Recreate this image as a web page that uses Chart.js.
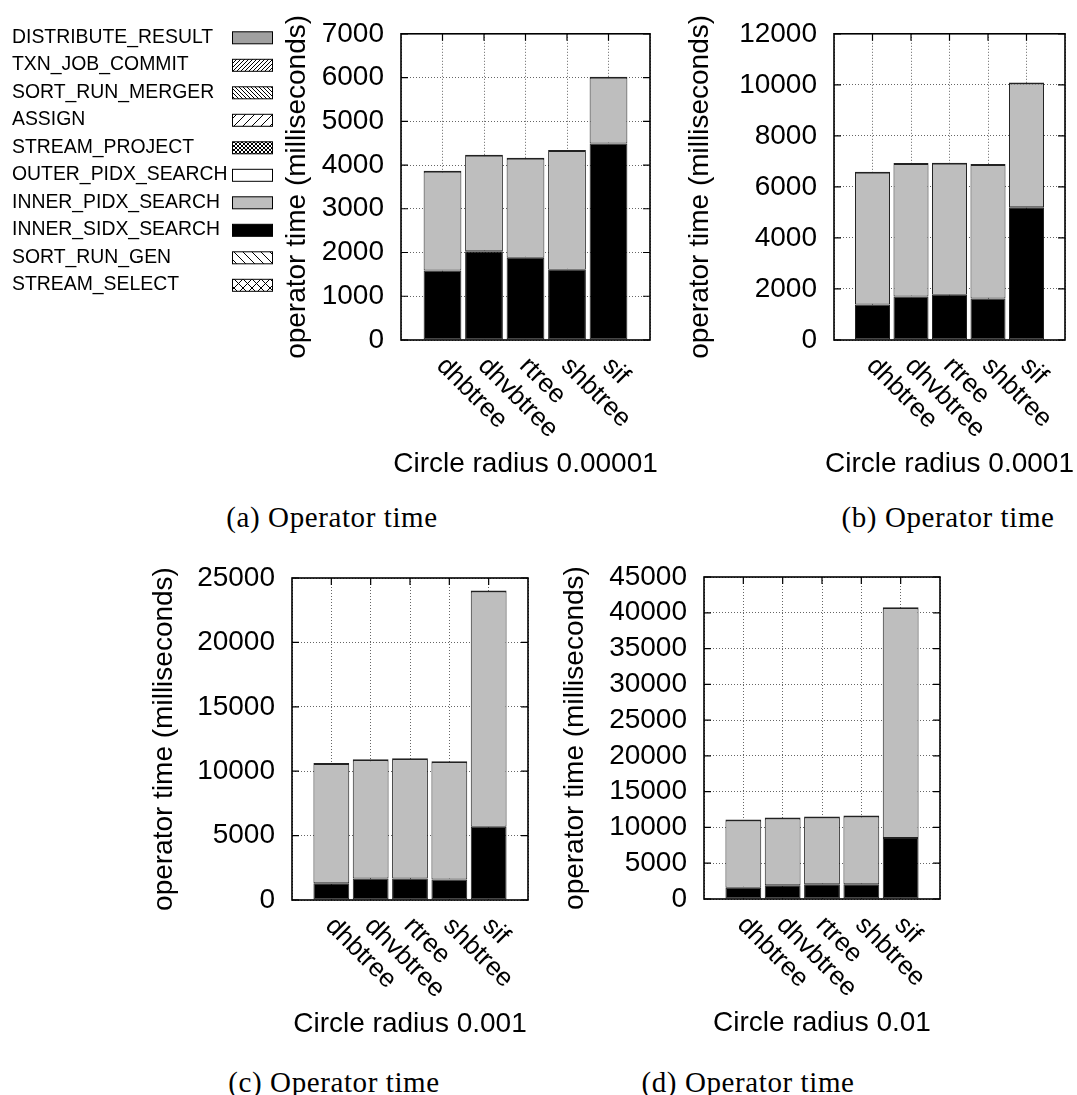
<!DOCTYPE html>
<html><head><meta charset="utf-8">
<script src="https://cdn.jsdelivr.net/npm/chart.js@4.4.1/dist/chart.umd.min.js"></script>
<style>
html,body{margin:0;padding:0;background:#fff;}
#wrap{position:relative;width:1077px;height:1095px;overflow:hidden;background:#fff;}
canvas{position:absolute;}
.cap{position:absolute;width:400px;text-align:center;font-family:"Liberation Serif",serif;font-size:29px;letter-spacing:0.6px;color:#000;line-height:34px;white-space:nowrap;}
</style></head><body>
<div id="wrap">
<canvas id="ca" width="660" height="480" style="left:0px;top:0px"></canvas>
<canvas id="cb" width="417" height="480" style="left:660px;top:0px"></canvas>
<canvas id="cc" width="440" height="501" style="left:100px;top:540px"></canvas>
<canvas id="cd" width="420" height="501" style="left:540px;top:540px"></canvas>
<div class="cap" style="left:132px;top:500px">(a) Operator time</div>
<div class="cap" style="left:748px;top:500px">(b) Operator time</div>
<div class="cap" style="left:134px;top:1065px">(c) Operator time</div>
<div class="cap" style="left:548px;top:1065px">(d) Operator time</div>
</div>
<script>
// ---------------- data ----------------
const categories = ['dhbtree', 'dhvbtree', 'rtree', 'shbtree', 'sif'];
// stack order, bottom first
const operators = ['STREAM_SELECT', 'SORT_RUN_GEN', 'INNER_SIDX_SEARCH', 'INNER_PIDX_SEARCH',
  'OUTER_PIDX_SEARCH', 'STREAM_PROJECT', 'ASSIGN', 'SORT_RUN_MERGER', 'TXN_JOB_COMMIT', 'DISTRIBUTE_RESULT'];
const xTitles = ['Circle radius 0.00001', 'Circle radius 0.0001', 'Circle radius 0.001', 'Circle radius 0.01'];
const yTitle = 'operator time (milliseconds)';
const yMax = [7000, 12000, 25000, 45000];
const yStep = [1000, 2000, 5000, 5000];

const sidxA = [1586, 2028, 1880, 1608, 4491];
const pidxA = [2286, 2205, 2287, 2735, 1527];
const sidxB = [1395, 1700, 1775, 1623, 5198];
const pidxB = [5195, 5232, 5170, 5272, 4890];
const sidxC = [1300, 1664, 1664, 1586, 5680];
const pidxC = [9345, 9261, 9338, 9184, 18342];
const sidxD = [1580, 1906, 2046, 2046, 8510];
const pidxD = [9520, 9474, 9494, 9634, 32272];
const otherOps = [0, 0, 0, 0, 0];

// ---------------- styles ----------------
const FONT = 'Liberation Sans';
Chart.defaults.color = '#000';
Chart.defaults.font.family = FONT;

function hatch(kind, gap) {
  const c = document.createElement('canvas');
  c.width = gap; c.height = gap;
  const g = c.getContext('2d');
  g.fillStyle = '#fff'; g.fillRect(0, 0, gap, gap);
  g.strokeStyle = '#000'; g.lineWidth = 1;
  g.beginPath();
  if (kind === '/' || kind === 'x') { g.moveTo(-1, gap + 1); g.lineTo(gap + 1, -1); }
  if (kind === '\\' || kind === 'x') { g.moveTo(-1, -1); g.lineTo(gap + 1, gap + 1); }
  g.stroke();
  return g.createPattern(c, 'repeat');
}
const opStyle = {
  STREAM_SELECT: hatch('x', 9),
  SORT_RUN_GEN: hatch('\\', 9),
  INNER_SIDX_SEARCH: '#000000',
  INNER_PIDX_SEARCH: '#bebebe',
  OUTER_PIDX_SEARCH: '#ffffff',
  STREAM_PROJECT: hatch('x', 4),
  ASSIGN: hatch('/', 9),
  SORT_RUN_MERGER: hatch('\\', 4),
  TXN_JOB_COMMIT: hatch('/', 4),
  DISTRIBUTE_RESULT: '#a0a0a0'
};

function pad(arr) { return [null].concat(arr, [null]); }

function buildDatasets(sidx, pidx) {
  return operators.map(op => {
    let vals = otherOps;
    if (op === 'INNER_SIDX_SEARCH') vals = sidx;
    if (op === 'INNER_PIDX_SEARCH') vals = pidx;
    return {
      label: op,
      data: pad(vals),
      backgroundColor: opStyle[op],
      borderColor: '#222',
      borderWidth: op === 'INNER_PIDX_SEARCH' ? {top: 2, left: 1, right: 1, bottom: 1} : 1,
      borderSkipped: false,
      categoryPercentage: 1,
      barPercentage: 0.91
    };
  });
}

// frame, inward ticks, axis titles and rotated category labels
const framePlugin = {
  id: 'frame',
  afterDatasetsDraw(chart, args, opts) {
    const {ctx, chartArea: a, scales} = chart;
    const x = scales.x, y = scales.y;
    ctx.save();
    ctx.strokeStyle = '#000';
    ctx.lineWidth = 1.2;
    ctx.beginPath();
    y.ticks.forEach(t => {
      const p = y.getPixelForValue(t.value);
      ctx.moveTo(a.left, p); ctx.lineTo(a.left + 7, p);
      ctx.moveTo(a.right, p); ctx.lineTo(a.right - 7, p);
    });
    for (let i = 1; i <= categories.length; i++) {
      const p = x.getPixelForValue(i);
      ctx.moveTo(p, a.top); ctx.lineTo(p, a.top + 7);
    }
    ctx.stroke();
    ctx.lineWidth = 1.6;
    ctx.strokeRect(a.left, a.top, a.right - a.left, a.bottom - a.top);
    ctx.fillStyle = '#000';
    // category labels, rotated clockwise
    ctx.font = '26px "' + FONT + '"';
    ctx.textAlign = 'left';
    ctx.textBaseline = 'middle';
    categories.forEach((c, i) => {
      const p = x.getPixelForValue(i + 1);
      ctx.save();
      ctx.translate(p - 2, a.bottom + 22);
      ctx.rotate(Math.PI / 4);
      ctx.fillText(c, 0, 0);
      ctx.restore();
    });
    // axis titles
    ctx.font = '28px "' + FONT + '"';
    ctx.textAlign = 'center';
    ctx.fillText(opts.xTitle, (a.left + a.right) / 2, a.bottom + 124);
    ctx.save();
    ctx.translate(opts.yTitleX, (a.top + a.bottom) / 2);
    ctx.rotate(-Math.PI / 2);
    ctx.fillText(yTitle, 0, 0);
    ctx.restore();
    ctx.restore();
  }
};

const legendPlugin = {
  id: 'opLegend',
  afterDraw(chart) {
    const ctx = chart.ctx;
    ctx.save();
    ctx.font = '19.4px "' + FONT + '"';
    ctx.textBaseline = 'middle';
    ctx.textAlign = 'left';
    const ds = chart.data.datasets.slice().reverse();
    ds.forEach((d, i) => {
      const yy = 37.3 + i * 27.5;
      ctx.fillStyle = '#000';
      ctx.fillText(d.label, 12, yy);
      ctx.fillStyle = d.backgroundColor;
      ctx.fillRect(232, yy - 5.5, 41, 12);
      ctx.strokeStyle = '#000';
      ctx.lineWidth = 1;
      ctx.strokeRect(232.5, yy - 5.5, 40, 12);
    });
    ctx.restore();
  }
};

function makeChart(id, idx, sidx, pidx, L, extraPlugins) {
  return new Chart(document.getElementById(id), {
    type: 'bar',
    data: { labels: [''].concat(categories, ['']), datasets: buildDatasets(sidx, pidx) },
    options: {
      responsive: false,
      animation: false,
      devicePixelRatio: 1,
      layout: { padding: { left: L.padLeft, top: L.padTop, right: L.padRight, bottom: 0 } },
      plugins: {
        legend: { display: false },
        tooltip: { enabled: false },
        frame: { xTitle: xTitles[idx], yTitleX: L.yTitleX }
      },
      scales: {
        x: {
          type: 'category',
          stacked: true,
          offset: false,
          grid: { offset: false, color: '#666', lineWidth: 1, drawTicks: false },
          border: { display: false, dash: [1, 2] },
          ticks: { display: false },
          afterFit: s => { s.height = L.xHeight; }
        },
        y: {
          stacked: true,
          min: 0,
          max: yMax[idx],
          grid: { color: '#666', lineWidth: 1, drawTicks: false },
          border: { display: false, dash: [1, 2] },
          ticks: {
            stepSize: yStep[idx], autoSkip: false, padding: 17,
            font: { size: 28, family: FONT }, color: '#000',
            callback: v => String(v)
          },
          afterFit: s => { s.width = L.yWidth; }
        }
      }
    },
    plugins: [framePlugin].concat(extraPlugins || [])
  });
}

makeChart('ca', 0, sidxA, pidxA, { padLeft: 280, yWidth: 121, padTop: 23.5, padRight: 10, xHeight: 140, yTitleX: 297 }, [legendPlugin]);
makeChart('cb', 1, sidxB, pidxB, { padLeft: 23, yWidth: 151, padTop: 24.4, padRight: 12, xHeight: 140, yTitleX: 40 });
makeChart('cc', 2, sidxC, pidxC, { padLeft: 47, yWidth: 145, padTop: 38, padRight: 12, xHeight: 141, yTitleX: 64 });
makeChart('cd', 3, sidxD, pidxD, { padLeft: 18, yWidth: 146, padTop: 37, padRight: 20, xHeight: 142, yTitleX: 35 });
</script>
</body></html>
